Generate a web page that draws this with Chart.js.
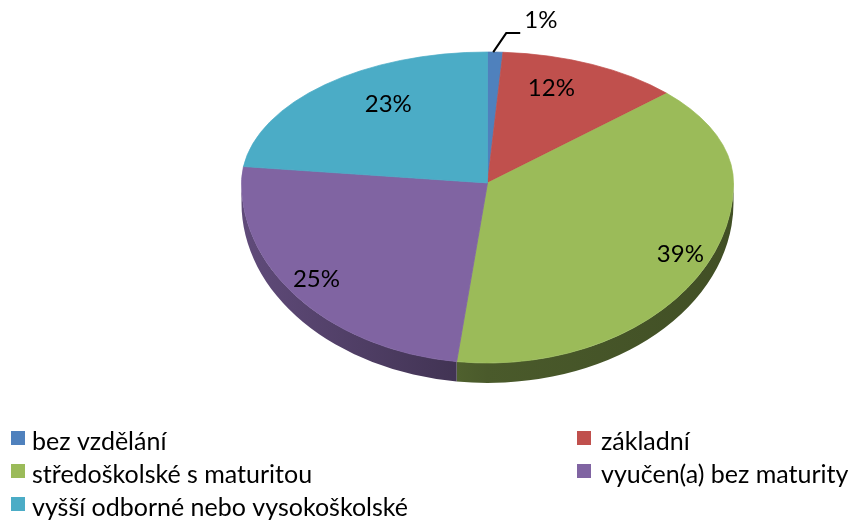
<!DOCTYPE html>
<html>
<head>
<meta charset="utf-8">
<script src="https://cdn.jsdelivr.net/npm/chart.js@4"></script>
<style>
  html, body { margin: 0; padding: 0; background: #fff; }
  #wrap { width: 852px; height: 522px; position: relative; }
</style>
</head>
<body>
<div id="wrap"><canvas id="eduChart"></canvas></div>
<script>
const categories = [
  "bez vzdělání",
  "základní",
  "středoškolské s maturitou",
  "vyučen(a) bez maturity",
  "vyšší odborné nebo vysokoškolské",
];
const shares = [1, 12, 39, 25, 23];
const sliceColors = ["#4F81BD", "#C0504D", "#9BBB59", "#8064A2", "#4BACC6"];

// tilted pie: far half is flatter than the near half
const PIE = { cx: 487.5, cy: 183, rx: 246, ryTop: 131, ryBottom: 180, depth: 20 };
const LABEL_FONT = "24px Lato";
const LEGEND_FONT = "25px Lato";

function shade(hex, f) {
  const n = parseInt(hex.slice(1), 16);
  const r = Math.round(((n >> 16) & 255) * f);
  const g = Math.round(((n >> 8) & 255) * f);
  const b = Math.round((n & 255) * f);
  return `rgb(${r},${g},${b})`;
}

function onPie(angle, fx, fy) {
  const s = Math.sin(angle);
  const ry = s < 0 ? PIE.ryTop : PIE.ryBottom;
  return { x: PIE.cx + PIE.rx * fx * Math.cos(angle), y: PIE.cy + ry * fy * s };
}

const tiltedPie = {
  id: "tiltedPie",
  beforeDatasetDraw() {
    return false; // arcs are drawn below with the tilt applied
  },
  afterDatasetsDraw(chart) {
    const ctx = chart.ctx;
    const arcs = chart.getDatasetMeta(0).data;

    // side wall of the near half
    arcs.forEach((arc, i) => {
      const s = Math.max(arc.startAngle, 0);
      const e = Math.min(arc.endAngle, Math.PI);
      if (e <= s) return;
      const g = ctx.createLinearGradient(PIE.cx - PIE.rx, 0, PIE.cx + PIE.rx, 0);
      g.addColorStop(0, shade(sliceColors[i], 0.75));
      g.addColorStop(0.5, shade(sliceColors[i], 0.48));
      g.addColorStop(1, shade(sliceColors[i], 0.42));
      ctx.beginPath();
      ctx.ellipse(PIE.cx, PIE.cy, PIE.rx, PIE.ryBottom, 0, s, e);
      ctx.ellipse(PIE.cx, PIE.cy + PIE.depth, PIE.rx, PIE.ryBottom, 0, e, s, true);
      ctx.closePath();
      ctx.fillStyle = g;
      ctx.fill();
    });

    // top face, far and near halves
    const a0 = arcs[0];
    [[0, PIE.cy, PIE.ryTop], [PIE.cy, chart.height, PIE.ryBottom]].forEach(([y0, y1, ry]) => {
      ctx.save();
      ctx.beginPath();
      ctx.rect(0, y0, chart.width, y1 - y0);
      ctx.clip();
      ctx.translate(PIE.cx, PIE.cy);
      ctx.scale(PIE.rx / a0.outerRadius, ry / a0.outerRadius);
      ctx.translate(-a0.x, -a0.y);
      arcs.forEach((arc) => arc.draw(ctx));
      ctx.restore();
    });

    // percentage labels
    ctx.save();
    ctx.font = LABEL_FONT;
    ctx.fillStyle = "#000";
    ctx.strokeStyle = "#000";
    arcs.forEach((arc, i) => {
      const mid = (arc.startAngle + arc.endAngle) / 2;
      const text = shares[i] + "%";
      if (shares[i] < 3) {
        const p = onPie(mid, 1, 1);
        const elbow = { x: p.x + 11, y: p.y - 19 };
        ctx.lineWidth = 2;
        ctx.beginPath();
        ctx.moveTo(p.x - 2, p.y);
        ctx.lineTo(elbow.x, elbow.y);
        ctx.lineTo(elbow.x + 14, elbow.y);
        ctx.stroke();
        ctx.textAlign = "left";
        ctx.textBaseline = "alphabetic";
        ctx.fillText(text, elbow.x + 18, elbow.y - 5);
      } else {
        const near = Math.sin(mid) > 0;
        const p = onPie(mid, near ? 0.88 : 0.61, near ? 0.86 : 0.81);
        ctx.textAlign = "center";
        ctx.textBaseline = "middle";
        ctx.fillText(text, p.x, p.y + 1);
      }
    });
    ctx.restore();
  },
  afterDraw(chart) {
    // two-column legend under the pie
    const ctx = chart.ctx;
    ctx.save();
    ctx.font = LEGEND_FONT;
    ctx.fillStyle = "#000";
    ctx.textAlign = "left";
    ctx.textBaseline = "alphabetic";
    const markX = [11, 577];
    const textX = [32, 601];
    categories.forEach((name, i) => {
      const col = i % 2;
      const row = Math.floor(i / 2);
      ctx.fillStyle = sliceColors[i];
      ctx.fillRect(markX[col], 431 + row * 33, 14, 14);
      ctx.fillStyle = "#000";
      ctx.fillText(name, textX[col], 450 + row * 33);
    });
    ctx.restore();
  },
};

function initChart() {
  const ctx = document.getElementById("eduChart");
  if (!ctx) {
    return;
  }
  new Chart(ctx, {
    type: "pie",
    data: {
      labels: categories,
      datasets: [
        {
          data: shares,
          backgroundColor: sliceColors,
          borderColor: sliceColors,
          borderWidth: 1,
        },
      ],
    },
    options: {
      responsive: true,
      maintainAspectRatio: false,
      animation: false,
      events: [],
      layout: { padding: 0 },
      plugins: {
        legend: { display: false },
        tooltip: { enabled: false },
      },
    },
    plugins: [tiltedPie],
  });
}

initChart();
</script>
</body>
</html>
